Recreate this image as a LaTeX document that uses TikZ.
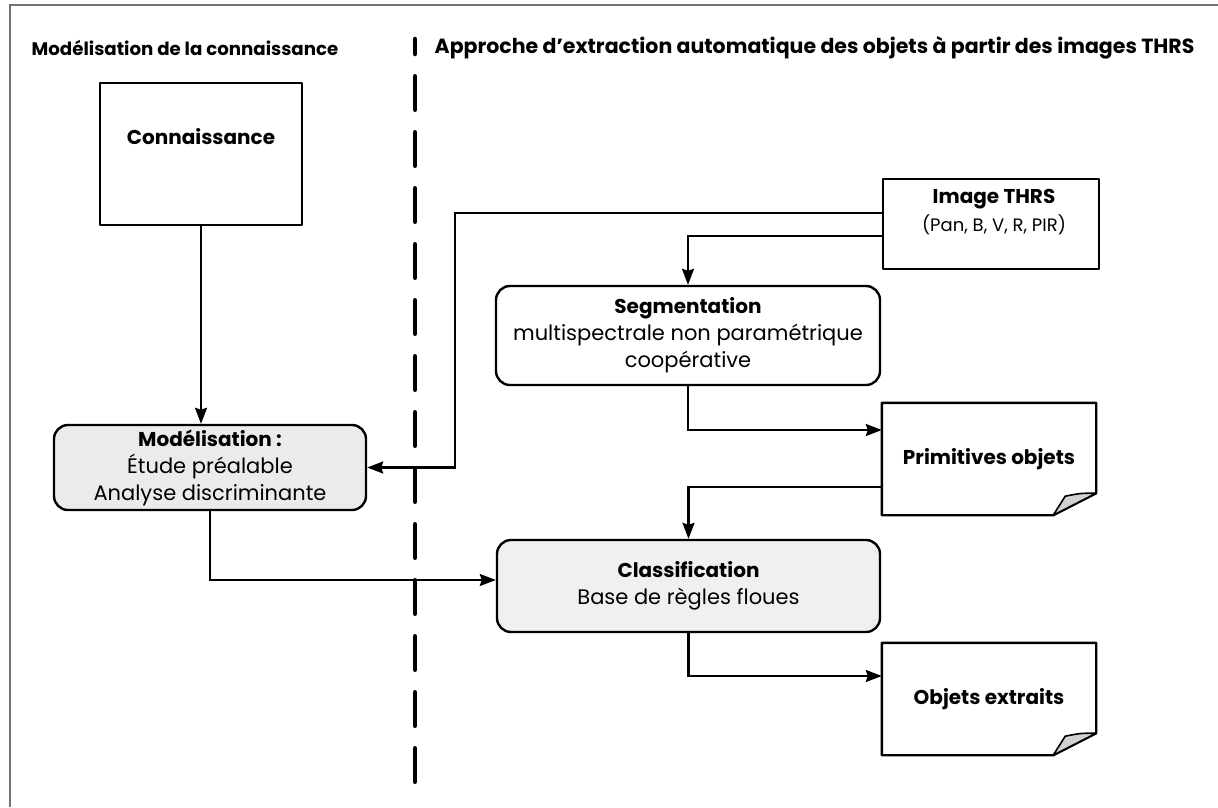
\documentclass[tikz,border=0pt]{standalone}
\usepackage{fontspec}
\setmainfont{Poppins}
\usetikzlibrary{arrows.meta,calc}

% outline of a document box with a folded bottom-right corner
\newcommand{\docoutline}[1]{%
  \draw[boxline] (#1.north west) -- (#1.north east)
    -- ([yshift=22pt]#1.south east) -- ([xshift=-43pt]#1.south east)
    -- (#1.south west) -- cycle;
  \filldraw[fold] ([xshift=-43pt]#1.south east)
    -- ([xshift=-31pt,yshift=19pt]#1.south east)
    .. controls ([xshift=-16pt,yshift=22pt]#1.south east) .. ([yshift=22pt]#1.south east)
    -- cycle;}

\newcommand{\boldline}[1]{{\fontsize{20}{27}\selectfont\bfseries #1}}

\begin{document}
\begin{tikzpicture}[x=1pt,y=-1pt,
  boxline/.style={line width=2.4pt, line join=round},
  fold/.style={line width=1.6pt, fill=black!18, line join=round},
  plainbox/.style={draw, boxline, inner sep=0pt, align=center},
  roundbox/.style={plainbox, rounded corners=14pt},
  docbox/.style={inner sep=0pt, align=center},
  boxfont/.style={font=\fontsize{21}{27}\selectfont},
  hdr/.style={font=\bfseries, inner sep=0pt},
  arr/.style={line width=2.2pt, -{Stealth[length=16pt,width=12pt,inset=2pt]}},
  divider/.style={line width=4.5pt, line cap=round},
  frameline/.style={draw=black!55, line width=1.5pt}]
\useasboundingbox (0,0) rectangle (1218,807);

% page frame
\draw[frameline] (1218,5) -- (10,5) -- (10,807);

% column headers and divider
\node[hdr, font=\fontsize{18.2}{22}\selectfont\bfseries] (hleft) at (185,48) {Modélisation de la connaissance};
\node[hdr, font=\fontsize{20.5}{22}\selectfont\bfseries] (hright) at (814.5,48) {Approche d’extraction automatique des objets à partir des images THRS};
\draw[divider] (415,39) -- (415,54);
\draw[divider, dash pattern=on 33.5pt off 22.5pt] (415,76.25) -- (415,788);

% boxes
\node[plainbox, minimum width=202pt, minimum height=142pt] (conn) at (201,154) {};
\node[boxfont] (conntxt) at (201,137) {\boldline{Connaissance}};

\node[roundbox, boxfont, fill=black!8, minimum width=312pt, minimum height=85pt] (mod) at (210,467.5)
  {\boldline{Modélisation :}\\Étude préalable\\Analyse discriminante};

\node[plainbox, minimum width=216pt, minimum height=90pt] (img) at (991,224) {};
\node[align=center, inner sep=0pt, font=\fontsize{18}{28}\selectfont] (imgtxt) at (994,212)
  {\boldline{Image THRS}\\(Pan, B, V, R, PIR)};

\node[roundbox, boxfont, minimum width=384pt, minimum height=99pt] (seg) at (688,335.5)
  {\boldline{Segmentation}\\multispectrale non paramétrique\\coopérative};

\node[docbox, boxfont, minimum width=214pt, minimum height=112pt] (prim) at (989,459) {\boldline{Primitives objets}};
\docoutline{prim}

\node[roundbox, boxfont, fill=black!6, minimum width=383pt, minimum height=92pt] (cls) at (688.5,586)
  {\boldline{Classification}\\Base de règles floues};

\node[docbox, boxfont, minimum width=214pt, minimum height=112pt] (obj) at (989,699) {\boldline{Objets extraits}};
\docoutline{obj}

% connectors
\coordinate (jmod) at (455,213);
\coordinate (jseg) at (688,236);
\draw[arr] (conn.south) -- (conn.south |- mod.north);
\draw[arr] (img.west |- jmod) -- (jmod) |- (mod.east);
\draw[arr] (img.west |- jseg) -| (seg.north);
\draw[arr] (seg.south) |- ([yshift=29pt]prim.west);
\draw[arr] ([yshift=-28pt]prim.west) -| (cls.north);
\draw[arr] (mod.south) |- ([yshift=6pt]cls.west);
\draw[arr] (cls.south) |- ([yshift=23pt]obj.west);
\end{tikzpicture}
\end{document}
